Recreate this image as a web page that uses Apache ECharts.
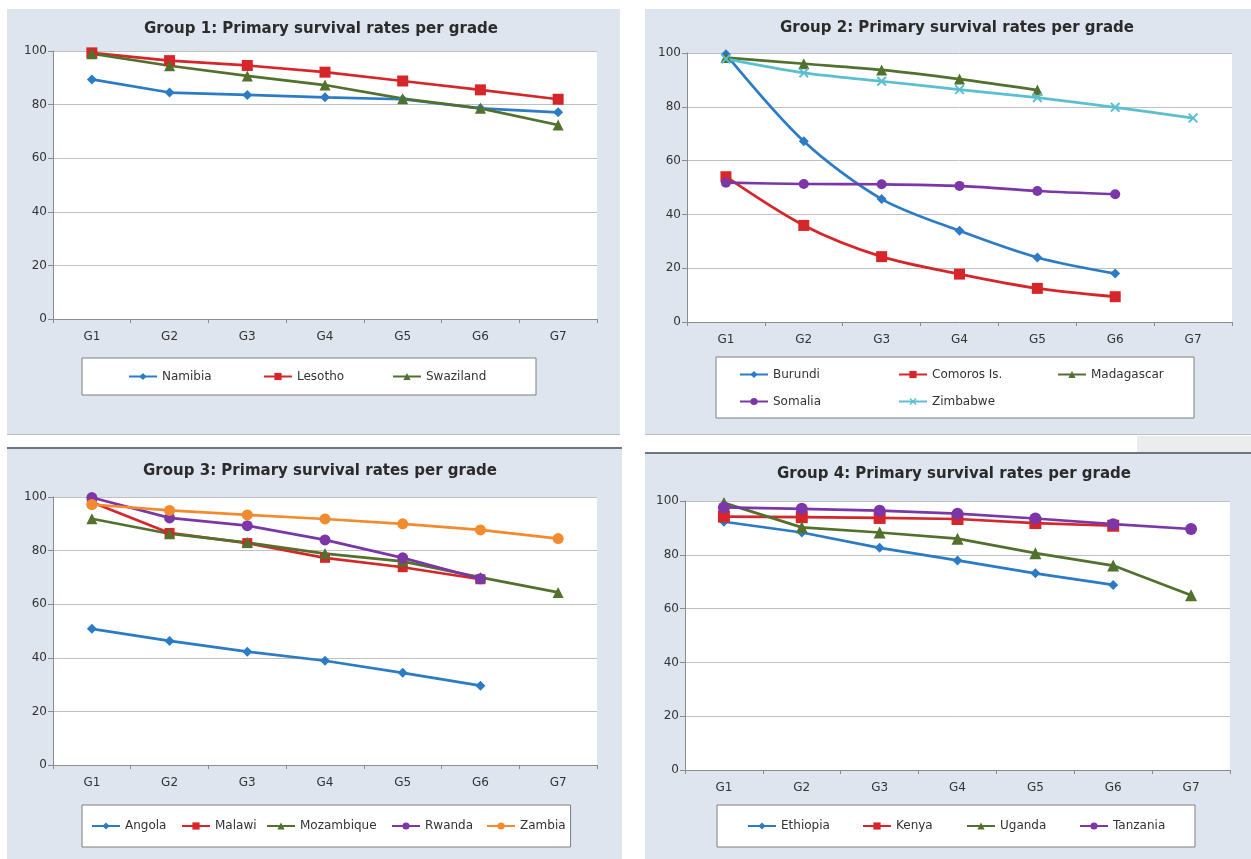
<!DOCTYPE html>
<html>
<head>
<meta charset="utf-8">
<script src="https://cdn.jsdelivr.net/npm/echarts@6/dist/echarts.min.js"></script>
<style>
  html, body { margin: 0; padding: 0; background: #ffffff; width: 1251px; height: 859px; overflow: hidden; }
  .panel { position: absolute; background: #dfe5ef; }
  #p1 { left: 7px; top: 9px; width: 613px; height: 426px; border-bottom: 1px solid #b9c0cc; box-sizing: border-box; }
  #p2 { left: 645px; top: 9px; width: 606px; height: 426px; border-bottom: 1px solid #b9c0cc; box-sizing: border-box; }
  #p3 { left: 7px; top: 447px; width: 615px; height: 412px; border-top: 2px solid #6f757e; box-sizing: border-box; }
  #p4 { left: 645px; top: 452px; width: 606px; height: 407px; border-top: 2px solid #6f757e; box-sizing: border-box; }
  #gray { position: absolute; left: 1137px; top: 436px; width: 114px; height: 16px; background: #ececec; }
</style>
</head>
<body>
<div id="gray"></div>
<div class="panel" id="p1"></div>
<div class="panel" id="p2"></div>
<div class="panel" id="p3"></div>
<div class="panel" id="p4"></div>
<script>
// ---------- DATA ----------
const grades = ['G1', 'G2', 'G3', 'G4', 'G5', 'G6', 'G7'];
const yMin = 0, yMax = 100, yStep = 20;

const titles = [
  'Group 1: Primary survival rates per grade',
  'Group 2: Primary survival rates per grade',
  'Group 3: Primary survival rates per grade',
  'Group 4: Primary survival rates per grade'
];

// Group 1
const g1Names = ['Namibia', 'Lesotho', 'Swaziland'];
const namibia   = [89.4, 84.5, 83.6, 82.7, 82.0, 78.6, 77.1];
const lesotho   = [99.3, 96.4, 94.6, 92.1, 88.8, 85.5, 82.0];
const swaziland = [99.0, 94.5, 90.7, 87.3, 82.2, 78.6, 72.4];

// Group 2
const g2Names = ['Burundi', 'Comoros Is.', 'Madagascar', 'Somalia', 'Zimbabwe'];
const burundi    = [99.5, 67.2, 45.7, 33.9, 24.0, 18.0];
const comoros    = [54.0, 35.9, 24.3, 17.8, 12.5, 9.4];
const madagascar = [98.3, 96.0, 93.7, 90.3, 86.2];
const somalia    = [51.8, 51.3, 51.2, 50.6, 48.7, 47.5];
const zimbabwe   = [97.8, 92.6, 89.5, 86.4, 83.4, 79.8, 75.8];

// Group 3
const g3Names = ['Angola', 'Malawi', 'Mozambique', 'Rwanda', 'Zambia'];
const angola     = [50.8, 46.3, 42.3, 38.9, 34.4, 29.6];
const malawi     = [98.0, 86.6, 82.8, 77.3, 73.8, 69.3];
const mozambique = [91.9, 86.3, 83.0, 78.9, 76.0, 70.0, 64.4];
const rwanda     = [99.8, 92.2, 89.3, 84.0, 77.3, 69.5];
const zambia     = [97.2, 95.0, 93.3, 91.8, 90.0, 87.7, 84.5];

// Group 4
const g4Names = ['Ethiopia', 'Kenya', 'Uganda', 'Tanzania'];
const ethiopia = [92.3, 88.3, 82.6, 77.9, 73.1, 68.8];
const kenya    = [94.2, 94.0, 93.7, 93.3, 91.8, 90.8];
const uganda   = [99.3, 90.2, 88.3, 86.0, 80.6, 76.0, 65.0];
const tanzania = [97.6, 97.1, 96.4, 95.3, 93.5, 91.4, 89.6];

// ---------- STYLES ----------
const C = {
  blue: '#2c7bc6', red: '#d7262a', green: '#51712d', purple: '#7b37a8',
  cyan: '#5bbfd2', orange: '#f28a2e'
};
const XPATH = 'path://M0,1.4L1.4,0L5,3.6L8.6,0L10,1.4L6.4,5L10,8.6L8.6,10L5,6.4L1.4,10L0,8.6L3.6,5Z';
const FONT = 'DejaVu Sans';

function ser(name, data, color, symbol, size, smooth) {
  return {
    name: name, type: 'line', data: data,
    symbol: symbol, symbolSize: size, smooth: smooth || false,
    showSymbol: true,
    lineStyle: { color: color, width: 2.7 },
    itemStyle: { color: color },
    emphasis: { disabled: true },
    animation: false
  };
}

function makeOption(cfg) {
  return {
    animation: false,
    title: {
      text: cfg.title, left: cfg.titleX, top: cfg.titleTop, textAlign: 'center',
      textStyle: { fontFamily: FONT, fontSize: 15, fontWeight: 'bold', color: '#2b2b2b', lineHeight: 18 }
    },
    grid: { left: cfg.grid[0], top: cfg.grid[1], width: cfg.grid[2], height: cfg.grid[3], containLabel: false,
            show: true, backgroundColor: '#ffffff', borderWidth: 0 },
    legend: {
      left: cfg.legend.left, top: cfg.legend.top, width: cfg.legend.width || 'auto',
      orient: 'horizontal', itemGap: 0, itemWidth: 28, itemHeight: 9,
      padding: cfg.legend.padding,
      backgroundColor: '#ffffff', borderColor: '#7f7f7f', borderWidth: 1,
      selectedMode: false,
      textStyle: { fontFamily: FONT, fontSize: 12, color: '#333', lineHeight: cfg.legend.lineHeight },
      data: cfg.names.map((n, i) => ({ name: n, textStyle: { width: cfg.legend.textWidths[i], overflow: 'none' } }))
    },
    xAxis: {
      type: 'category', data: grades, boundaryGap: true,
      axisLine: { lineStyle: { color: '#8c8c8c', width: 1 } },
      axisTick: { show: true, length: 4, lineStyle: { color: '#8c8c8c' } },
      axisLabel: { fontFamily: FONT, fontSize: 12, color: '#333', margin: 12 }
    },
    yAxis: {
      type: 'value', min: yMin, max: yMax, interval: yStep,
      axisLine: { show: true, lineStyle: { color: '#8c8c8c', width: 1 } },
      axisTick: { show: true, length: 5, lineStyle: { color: '#8c8c8c' } },
      axisLabel: { fontFamily: FONT, fontSize: 12, color: '#333', margin: 6 },
      splitLine: { show: true, lineStyle: { color: '#c0c0c0', width: 1 } }
    },
    series: cfg.series
  };
}

const panels = [
  {
    el: 'p1', title: titles[0], titleX: 309, titleTop: 6,
    grid: [46, 42, 544, 268], names: g1Names,
    legend: { left: 75, top: 349, padding: [10, 45, 10, 46], lineHeight: 17, textWidths: [101, 95, 65] },
    series: [
      ser(g1Names[0], namibia, C.blue, 'diamond', 10),
      ser(g1Names[1], lesotho, C.red, 'rect', 11),
      ser(g1Names[2], swaziland, C.green, 'triangle', 11)
    ]
  },
  {
    el: 'p2', title: titles[1], titleX: 307, titleTop: 5,
    grid: [42, 44, 545, 269], names: g2Names,
    legend: { left: 71, top: 348, width: 440, padding: [4, 25, 3, 23], lineHeight: 27, textWidths: [125, 125, 78, 125, 78] },
    series: [
      ser(g2Names[0], burundi, C.blue, 'diamond', 10, 0.3),
      ser(g2Names[1], comoros, C.red, 'rect', 11, 0.3),
      ser(g2Names[2], madagascar, C.green, 'triangle', 11, 0.3),
      ser(g2Names[3], somalia, C.purple, 'circle', 10, 0.3),
      ser(g2Names[4], zimbabwe, C.cyan, XPATH, 10, 0.3)
    ]
  },
  {
    el: 'p3', title: titles[2], titleX: 308, titleTop: 8,
    grid: [46, 48, 544, 268], names: g3Names,
    legend: { left: 75, top: 356, padding: [12, 5, 12, 9], lineHeight: 18, textWidths: [56, 51, 91, 61, 45] },
    series: [
      ser(g3Names[0], angola, C.blue, 'diamond', 10),
      ser(g3Names[1], malawi, C.red, 'rect', 10),
      ser(g3Names[2], mozambique, C.green, 'triangle', 11),
      ser(g3Names[3], rwanda, C.purple, 'circle', 11),
      ser(g3Names[4], zambia, C.orange, 'circle', 11)
    ]
  },
  {
    el: 'p4', title: titles[3], titleX: 304, titleTop: 6,
    grid: [40, 47, 545, 269], names: g4Names,
    legend: { left: 72, top: 351, padding: [12, 25, 12, 30], lineHeight: 18, textWidths: [81, 70, 79, 57] },
    series: [
      ser(g4Names[0], ethiopia, C.blue, 'diamond', 10),
      ser(g4Names[1], kenya, C.red, 'rect', 12),
      ser(g4Names[2], uganda, C.green, 'triangle', 12),
      ser(g4Names[3], tanzania, C.purple, 'circle', 12)
    ]
  }
];

panels.forEach(p => {
  const chart = echarts.init(document.getElementById(p.el), null, { renderer: 'canvas' });
  chart.setOption(makeOption(p));
});
</script>
</body>
</html>
